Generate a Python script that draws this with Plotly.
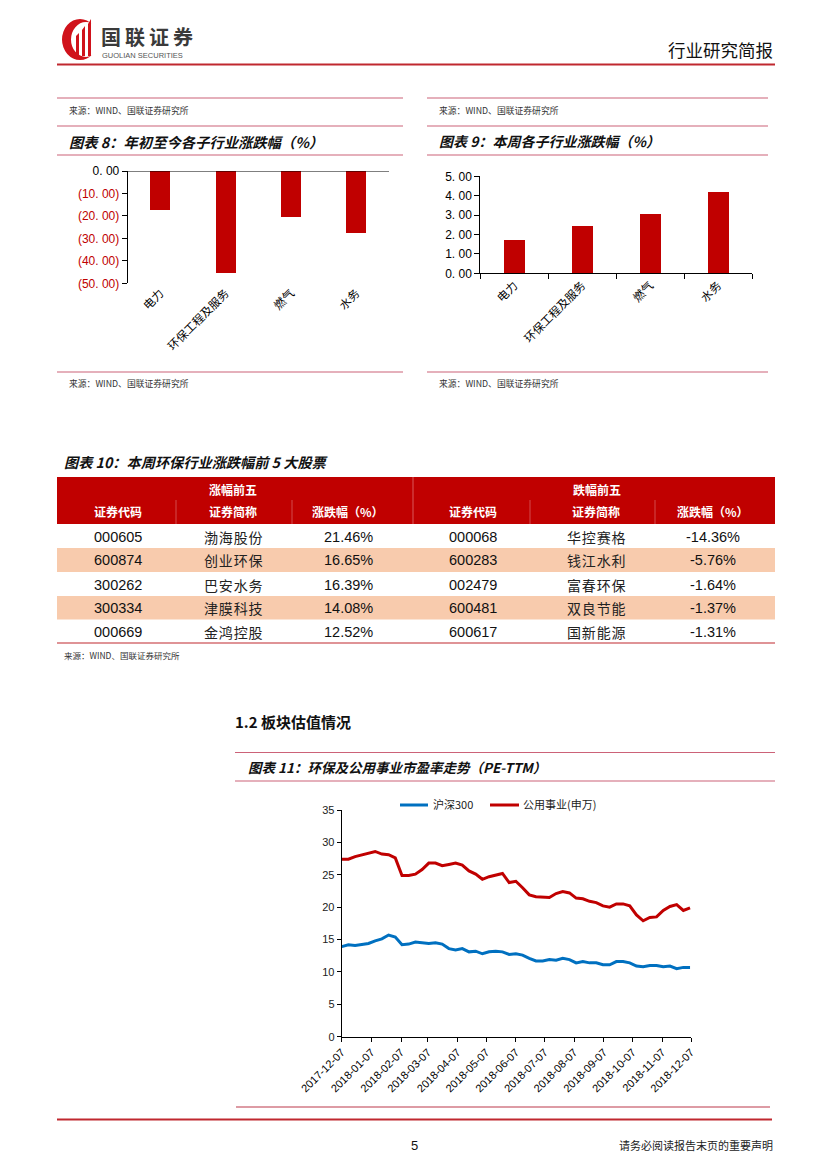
import plotly.graph_objects as go
import pandas as pd

# ---------------- data ----------------
sub_industries = ["电力", "环保工程及服务", "燃气", "水务"]
ytd_change = [-17.4, -45.3, -20.6, -27.7]
week_change = [1.72, 2.45, 3.06, 4.19]
ytd_ticks = [0, -10, -20, -30, -40, -50]
ytd_ticktext = ["0. 00", "(10. 00)", "(20. 00)", "(30. 00)", "(40. 00)", "(50. 00)"]
week_ticks = [0, 1, 2, 3, 4, 5]
week_ticktext = ["0. 00", "1. 00", "2. 00", "3. 00", "4. 00", "5. 00"]

up_codes = ["000605", "600874", "300262", "300334", "000669"]
up_names = ["渤海股份", "创业环保", "巴安水务", "津膜科技", "金鸿控股"]
up_pct = [21.46, 16.65, 16.39, 14.08, 12.52]
down_codes = ["000068", "600283", "002479", "600481", "600617"]
down_names = ["华控赛格", "钱江水利", "富春环保", "双良节能", "国新能源"]
down_pct = [-14.36, -5.76, -1.64, -1.37, -1.31]

pe_series_names = ["沪深300", "公用事业(申万)"]
pe_dates = pd.date_range("2017-12-07", periods=53, freq="7D")
hs300_pe = [13.9, 14.2, 14.1, 14.3, 14.4, 14.8, 15.1, 15.7, 15.4, 14.2,
            14.3, 14.6, 14.5, 14.4, 14.5, 14.3, 13.6, 13.4, 13.6, 13.1,
            13.2, 12.8, 13.1, 13.2, 13.1, 12.7, 12.8, 12.6, 12.1, 11.7,
            11.7, 11.9, 11.8, 12.1, 11.9, 11.4, 11.6, 11.4, 11.4, 11.1,
            11.1, 11.6, 11.6, 11.4, 10.9, 10.8, 11.0, 11.0, 10.8, 10.9,
            10.5, 10.7, 10.7]
utility_pe = [27.4, 27.4, 27.8, 28.1, 28.3, 28.6, 28.2, 28.1, 27.6, 24.9,
              24.9, 25.1, 25.8, 26.8, 26.8, 26.4, 26.6, 26.8, 26.5, 25.6,
              25.1, 24.3, 24.7, 24.9, 25.2, 23.8, 24.0, 23.0, 21.9, 21.6,
              21.6, 21.5, 22.1, 22.4, 22.2, 21.4, 21.3, 20.9, 20.7, 20.2,
              20.0, 20.5, 20.5, 20.2, 18.8, 17.9, 18.4, 18.5, 19.5, 20.1,
              20.4, 19.5, 19.9]
pe_tickvals = ["2017-12-07", "2018-01-07", "2018-02-07", "2018-03-07", "2018-04-07",
               "2018-05-07", "2018-06-07", "2018-07-07", "2018-08-07", "2018-09-07",
               "2018-10-07", "2018-11-07", "2018-12-07"]
pe_ticks_y = [0, 5, 10, 15, 20, 25, 30, 35]

# ---------------- helpers ----------------
W, H = 827, 1169
CJK = "Noto Sans CJK SC"
LAT = "Liberation Sans, Arial"
RED = "#C00000"
BLUE = "#0070C0"
PINK = "#CC6278"


def px(x):
    return x / W


def py(y):
    return 1 - y / H


shapes = []
annotations = []


def hline(x0, x1, y, color=PINK, width=1.2):
    shapes.append(dict(type="line", xref="paper", yref="paper", x0=px(x0), x1=px(x1),
                       y0=py(y), y1=py(y), line=dict(color=color, width=width), layer="above"))


def vline(x, y0, y1, color, width=1):
    shapes.append(dict(type="line", xref="paper", yref="paper", x0=px(x), x1=px(x),
                       y0=py(y0), y1=py(y1), line=dict(color=color, width=width), layer="above"))


def rect(x0, y0, x1, y1, fill):
    shapes.append(dict(type="rect", xref="paper", yref="paper", x0=px(x0), x1=px(x1),
                       y0=py(y0), y1=py(y1), fillcolor=fill, line=dict(width=0), layer="below"))


def text(x, y, s, size=11, color="#000", family=CJK, anchor="left", pad=1):
    annotations.append(dict(xref="paper", yref="paper", x=px(x), y=py(y), text=s,
                            showarrow=False, xanchor=anchor, yanchor="middle", borderpad=pad,
                            font=dict(size=size, color=color, family=family)))


def path(points, fill):
    d = "M " + " L ".join(f"{px(a):.5f},{py(b):.5f}" for a, b in points) + " Z"
    shapes.append(dict(type="path", xref="paper", yref="paper", path=d,
                       fillcolor=fill, line=dict(width=0), layer="above"))


# ---------------- header ----------------
shapes.append(dict(type="circle", xref="paper", yref="paper", x0=px(62), x1=px(98),
                   y0=py(60), y1=py(19), fillcolor="#D0121B", line=dict(width=0)))
shapes.append(dict(type="circle", xref="paper", yref="paper", x0=px(71), x1=px(101),
                   y0=py(57), y1=py(22), fillcolor="#FFFFFF", line=dict(width=0)))
path([(76, 56), (76, 36), (79, 33), (79, 56)], "#D0121B")
path([(82, 56), (82, 30), (85, 26), (85, 56)], "#D0121B")
path([(88, 56), (88, 24), (91, 19), (91, 56)], "#D0121B")
text(100, 37, "<b>" + "&#8201;".join("国联证券") + "</b>", 20, "#3A3A3A", CJK, "left", 0)
text(101, 55.5, "GUOLIAN SECURITIES", 7.5, "#555", LAT, "left", 0)
text(775, 49, "行业研究简报", 17.5, "#111", CJK, "right")
hline(57, 775, 64.5, "#C0282F", 2)

# ---------------- panels (charts 8 & 9) ----------------
for (xa, xb) in [(57, 403), (427, 768)]:
    hline(xa, xb, 98)
    text(xa + 10, 110, "来源：WIND、国联证券研究所", 8.8, "#333")
    hline(xa, xb, 126)
    hline(xa, xb, 155)
    hline(xa, xb, 372)
    text(xa + 10, 383, "来源：WIND、国联证券研究所", 8.8, "#333")
text(67, 141, "<b><i>图表 8：年初至今各子行业涨跌幅（%）</i></b>", 14.3, "#111")
text(437, 141, "<b><i>图表 9：本周各子行业涨跌幅（%）</i></b>", 14, "#111")

# ---------------- table ----------------
text(62, 462, "<b><i>图表 10：本周环保行业涨跌幅前 5 大股票</i></b>", 14.2, "#111")
rect(57, 477, 775, 524, RED)
vline(413, 477, 524, "#D9585A", 1)
for xv in [176, 292, 530, 655]:
    vline(xv, 500, 524, "#D24A4C", 1)
text(233, 489, "<b>涨幅前五</b>", 12, "#FFFFFF", CJK, "center")
text(597, 489, "<b>跌幅前五</b>", 12, "#FFFFFF", CJK, "center")
col_x = [118, 233, 348, 473, 596, 713]
col_heads = ["证券代码", "证券简称", "涨跌幅（%）", "证券代码", "证券简称", "涨跌幅（%）"]
for cx, hd in zip(col_x, col_heads):
    text(cx, 511.5, f"<b>{hd}</b>", 12, "#FFFFFF", CJK, "center")
row_edges = [524, 548, 572, 596, 619.5, 643]
for i in range(5):
    y0, y1 = row_edges[i], row_edges[i + 1]
    if i % 2 == 1:
        rect(57, y0, 775, y1, "#F8CBAD")
    yc = (y0 + y1) / 2 + 0.5
    text(col_x[0], yc, up_codes[i], 14.5, "#111", LAT, "center")
    text(col_x[1], yc, "&#8202;".join(up_names[i]), 14, "#222", CJK, "center")
    text(col_x[2], yc, f"{up_pct[i]:.2f}%", 14.5, "#111", LAT, "center")
    text(col_x[3], yc, down_codes[i], 14.5, "#111", LAT, "center")
    text(col_x[4], yc, "&#8202;".join(down_names[i]), 14, "#222", CJK, "center")
    text(col_x[5], yc, f"{down_pct[i]:.2f}%", 14.5, "#111", LAT, "center")
hline(57, 775, 643, "#C0282F", 1.2)
text(62, 655, "来源：WIND、国联证券研究所", 8.5, "#333")

# ---------------- section 1.2 ----------------
text(233, 721, "<b>1.2 板块估值情况</b>", 15, "#111")
hline(235, 775, 752.5)
text(246, 767, "<b><i>图表 11：环保及公用事业市盈率走势（PE-TTM）</i></b>", 13.5, "#111")
hline(235, 775, 781)

# legend of chart 11 (drawn manually for exact spacing)
hline(400, 428, 805, BLUE, 3)
text(431, 804, pe_series_names[0], 11, "#222")
hline(490, 519, 805, RED, 3)
text(521, 804, pe_series_names[1], 11, "#222")

# ---------------- footer ----------------
hline(236, 770, 1107, "#D27A86", 1.5)
hline(57, 772, 1119.5, "#C0282F", 2)
text(414, 1145, "5", 13, "#111", LAT, "center")
text(775, 1145, "请务必阅读报告末页的重要声明", 11, "#222", CJK, "right")

# ---------------- figure ----------------
fig = go.Figure()

# chart 8
fig.add_trace(go.Bar(x=sub_industries, y=ytd_change, marker=dict(color=RED, line=dict(width=0)),
                     width=0.31, showlegend=False, xaxis="x", yaxis="y"))
# chart 9
fig.add_trace(go.Bar(x=sub_industries, y=week_change, marker=dict(color=RED, line=dict(width=0)),
                     width=0.31, showlegend=False, xaxis="x2", yaxis="y2"))
# chart 11
fig.add_trace(go.Scatter(x=pe_dates, y=hs300_pe, mode="lines", name=pe_series_names[0],
                         line=dict(color=BLUE, width=3), xaxis="x3", yaxis="y3", showlegend=False))
fig.add_trace(go.Scatter(x=pe_dates, y=utility_pe, mode="lines", name=pe_series_names[1],
                         line=dict(color=RED, width=3), xaxis="x3", yaxis="y3", showlegend=False))

# zero line + boundary ticks for chart 8
shapes.append(dict(type="line", xref="x domain", yref="y", x0=0, x1=1, y0=0, y1=0,
                   line=dict(color="#000", width=1)))
for k in range(len(sub_industries) + 1):
    shapes.append(dict(type="line", xref="x", yref="y", ysizemode="pixel", yanchor=0,
                       x0=k - 0.5, x1=k - 0.5, y0=0, y1=5, line=dict(color="#000", width=1)))

ytd_colored = [t if v == 0 else f"<span style='color:{RED}'>{t}</span>"
               for t, v in zip(ytd_ticktext, ytd_ticks)]

axis_common = dict(showgrid=False, zeroline=False, fixedrange=True, automargin=False)

fig.update_layout(
    template="none",
    width=W, height=H, margin=dict(l=0, r=0, t=0, b=0, pad=0, autoexpand=False),
    paper_bgcolor="white", plot_bgcolor="white",
    bargap=0, showlegend=False,
    xaxis=dict(domain=[px(127.7), px(389)], anchor="y", type="category",
               range=[-0.5, 3.5], showline=False, ticks="", tickangle=-45,
               tickfont=dict(family=CJK, size=11.5, color="#000"), **axis_common),
    yaxis=dict(domain=[py(283.3), py(171)], anchor="x", range=[-50, 0],
               tickvals=ytd_ticks, ticktext=ytd_colored, showline=True, linecolor="#000",
               linewidth=1, ticks="outside", ticklen=5, tickcolor="#000",
               tickfont=dict(family=LAT, size=12, color="#000"), **axis_common),
    xaxis2=dict(domain=[px(480.3), px(752)], anchor="y2", type="category",
                range=[-0.5, 3.5], showline=True, linecolor="#000", linewidth=1,
                ticks="outside", tickson="boundaries", ticklen=5, tickcolor="#000",
                tickangle=-45, tickfont=dict(family=CJK, size=11.5, color="#000"), **axis_common),
    yaxis2=dict(domain=[py(273.3), py(176.3)], anchor="x2", range=[0, 5],
                tickvals=week_ticks, ticktext=week_ticktext, showline=True, linecolor="#000",
                linewidth=1, ticks="outside", ticklen=5, tickcolor="#000",
                tickfont=dict(family=LAT, size=12, color="#000"), **axis_common),
    xaxis3=dict(domain=[px(341.7), px(691)], anchor="y3", type="date",
                range=[pe_tickvals[0], pe_tickvals[-1]], tickvals=pe_tickvals,
                ticktext=pe_tickvals, tickangle=-45, showline=True, linecolor="#000",
                linewidth=1, ticks="outside", ticklen=4, tickcolor="#000",
                tickfont=dict(family=LAT, size=11, color="#000"), **axis_common),
    yaxis3=dict(domain=[py(1036.7), py(810)], anchor="x3", range=[0, 35],
                tickvals=pe_ticks_y, showline=True, linecolor="#000", linewidth=1,
                ticks="outside", ticklen=4, tickcolor="#000",
                tickfont=dict(family=LAT, size=11, color="#222"), **axis_common),
    shapes=shapes, annotations=annotations,
)

fig.write_html("out.html", config={"displayModeBar": False, "staticPlot": True},
               post_script="document.body.style.margin='0px';")
